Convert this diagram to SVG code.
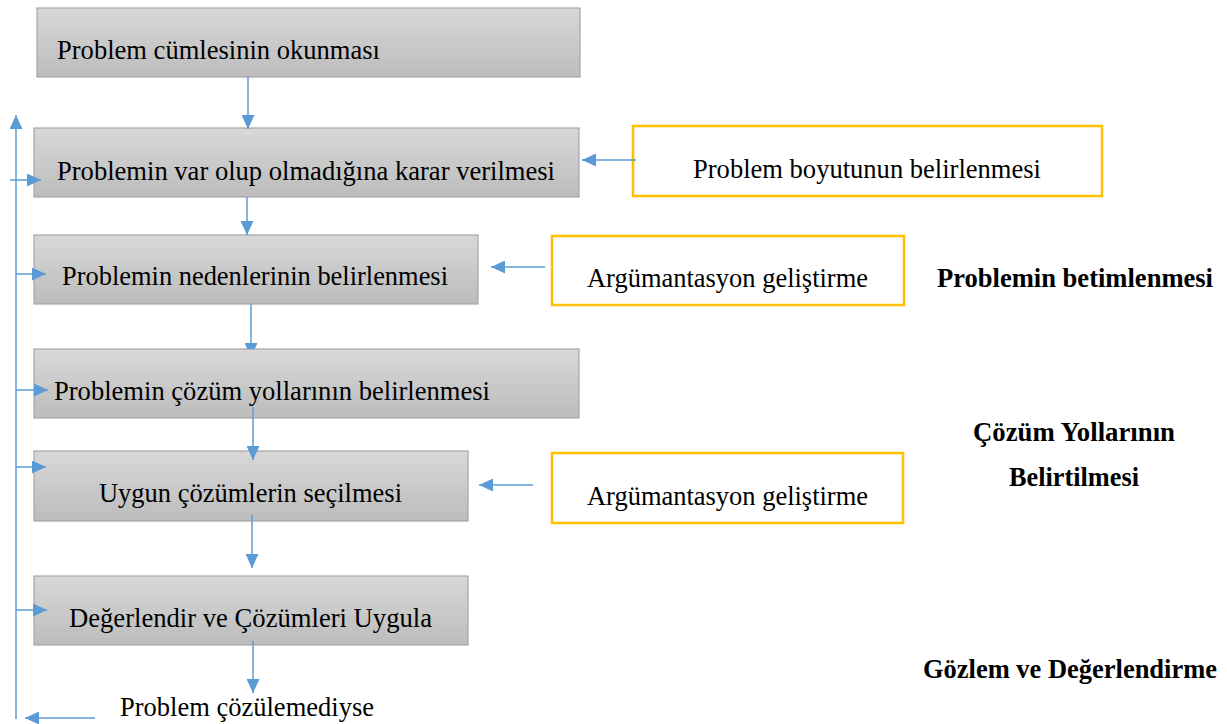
<svg xmlns="http://www.w3.org/2000/svg" width="1227" height="724" viewBox="0 0 1227 724">
  <style>
    .step { fill: url(#grayFill); stroke: #a6a6a6; stroke-width: 1.2; }
    .input { fill: #ffffff; stroke: #ffc000; stroke-width: 2.5; }
    .lbl { font-family: "Liberation Serif", "Times New Roman", serif; font-size: 27px; fill: #000000; }
    .phase { font-family: "Liberation Serif", "Times New Roman", serif; font-size: 27px; font-weight: bold; fill: #000000; }
    .wire { fill: none; stroke: #5b9bd5; stroke-width: 1.5; marker-end: url(#head); }
  </style>
  <defs>
    <linearGradient id="grayFill" x1="0" y1="0" x2="0" y2="1">
      <stop offset="0" stop-color="#d8d8d8"/>
      <stop offset="1" stop-color="#bcbcbc"/>
    </linearGradient>
    <marker id="head" markerUnits="userSpaceOnUse" viewBox="0 0 14 13" refX="14" refY="6.5" markerWidth="14" markerHeight="13" orient="auto">
      <path d="M0,0 L14,6.5 L0,13 z" fill="#5b9bd5"/>
    </marker>
    <clipPath id="aboveStep4">
      <rect x="0" y="0" width="1227" height="349"/>
    </clipPath>
  </defs>

  <rect width="1227" height="724" fill="#ffffff"/>

  <!-- process steps -->
  <g id="step1">
    <rect class="step" x="37" y="8" width="543" height="69"/>
    <text class="lbl" x="57" y="59" textLength="323" lengthAdjust="spacingAndGlyphs">Problem cümlesinin okunması</text>
  </g>
  <g id="step2">
    <rect class="step" x="34" y="128" width="545" height="69"/>
    <text class="lbl" x="57" y="180" textLength="498" lengthAdjust="spacingAndGlyphs">Problemin var olup olmadığına karar verilmesi</text>
  </g>
  <g id="step3">
    <rect class="step" x="34" y="235" width="444" height="69"/>
    <text class="lbl" x="62" y="285" textLength="386" lengthAdjust="spacingAndGlyphs">Problemin nedenlerinin belirlenmesi</text>
  </g>
  <g id="step4">
    <rect class="step" x="34" y="349" width="545" height="69"/>
    <text class="lbl" x="54" y="400" textLength="436" lengthAdjust="spacingAndGlyphs">Problemin çözüm yollarının belirlenmesi</text>
  </g>
  <g id="step5">
    <rect class="step" x="34" y="451" width="434" height="70"/>
    <text class="lbl" x="99" y="502" textLength="303" lengthAdjust="spacingAndGlyphs">Uygun çözümlerin seçilmesi</text>
  </g>
  <g id="step6">
    <rect class="step" x="34" y="576" width="434" height="69"/>
    <text class="lbl" x="69" y="627" textLength="363" lengthAdjust="spacingAndGlyphs">Değerlendir ve Çözümleri Uygula</text>
  </g>
  <g id="retry">
    <text class="lbl" x="120" y="716" textLength="254" lengthAdjust="spacingAndGlyphs">Problem çözülemediyse</text>
  </g>

  <!-- supporting inputs -->
  <g id="input-size">
    <rect class="input" x="633" y="126" width="469" height="70"/>
    <text class="lbl" x="693" y="178" textLength="348" lengthAdjust="spacingAndGlyphs">Problem boyutunun belirlenmesi</text>
  </g>
  <g id="input-arg1">
    <rect class="input" x="552" y="236" width="352" height="69"/>
    <text class="lbl" x="587" y="287" textLength="281" lengthAdjust="spacingAndGlyphs">Argümantasyon geliştirme</text>
  </g>
  <g id="input-arg2">
    <rect class="input" x="552" y="453" width="351" height="70"/>
    <text class="lbl" x="587" y="505" textLength="281" lengthAdjust="spacingAndGlyphs">Argümantasyon geliştirme</text>
  </g>

  <!-- phase labels -->
  <g id="phase-describe">
    <text class="phase" x="937" y="287" textLength="276" lengthAdjust="spacingAndGlyphs">Problemin betimlenmesi</text>
  </g>
  <g id="phase-solutions">
    <text class="phase" x="973" y="441" textLength="202" lengthAdjust="spacingAndGlyphs">Çözüm Yollarının</text>
    <text class="phase" x="1009" y="486" textLength="130" lengthAdjust="spacingAndGlyphs">Belirtilmesi</text>
  </g>
  <g id="phase-evaluate">
    <text class="phase" x="923" y="678" textLength="294" lengthAdjust="spacingAndGlyphs">Gözlem ve Değerlendirme</text>
  </g>

  <!-- connectors -->
  <g id="connectors">
    <path class="wire" d="M248,77 V129"/>
    <path class="wire" d="M247,197 V235"/>
    <g clip-path="url(#aboveStep4)">
      <path class="wire" d="M251,304 V357"/>
    </g>
    <path class="wire" d="M253,407 V460"/>
    <path class="wire" d="M252,515 V568"/>
    <path class="wire" d="M253,641 V693"/>

    <path class="wire" d="M636,160 H582"/>
    <path class="wire" d="M545,267 H491"/>
    <path class="wire" d="M533,485 H479"/>

    <!-- feedback loop -->
    <path class="wire" d="M95,718 H25"/>
    <path class="wire" d="M16,719 V115"/>
    <path class="wire" d="M10,180 H41"/>
    <path class="wire" d="M16,274 H46"/>
    <path class="wire" d="M16,390 H48"/>
    <path class="wire" d="M16,467 H46"/>
    <path class="wire" d="M16,610 H47"/>
  </g>
</svg>
